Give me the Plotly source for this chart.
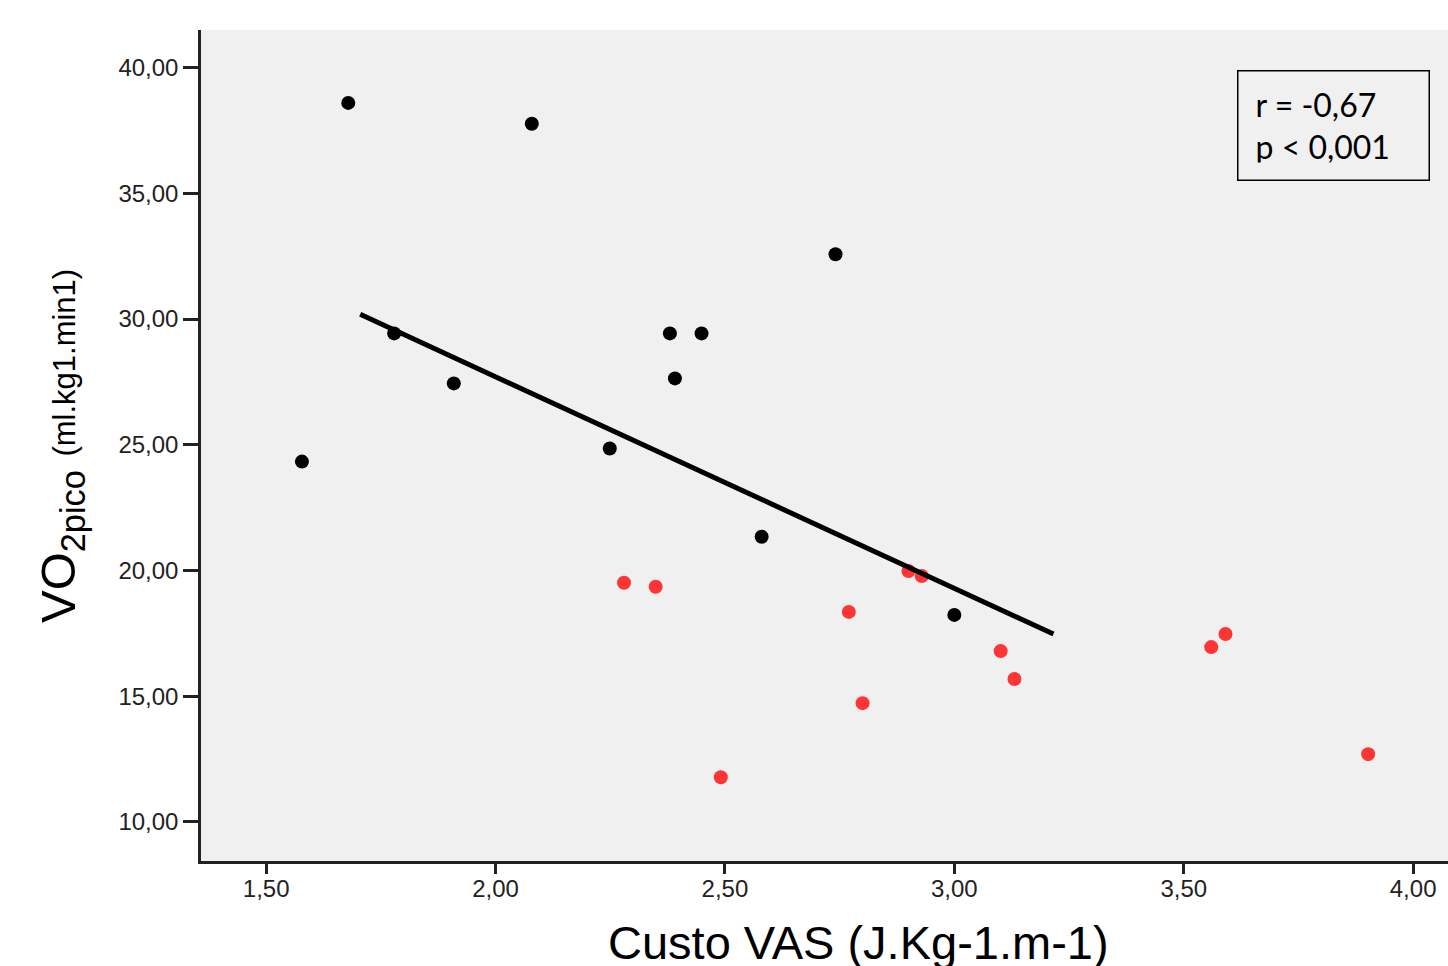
import plotly.graph_objects as go

# Data
black_x = [1.578, 1.679, 1.779, 1.909, 2.079, 2.249, 2.380, 2.449, 2.391, 2.580, 2.741, 3.000]
black_y = [24.33, 38.60, 29.43, 27.44, 37.77, 24.85, 29.43, 29.43, 27.64, 21.34, 32.58, 18.23]

red_x = [2.280, 2.349, 2.491, 2.770, 2.800, 2.900, 2.929, 3.101, 3.131, 3.560, 3.591, 3.902]
red_y = [19.51, 19.35, 11.77, 18.35, 14.72, 19.98, 19.78, 16.79, 15.68, 16.95, 17.47, 12.69]

fit_x = [1.705, 3.216]
fit_y = [30.19, 17.47]

x_ticks = [1.5, 2.0, 2.5, 3.0, 3.5, 4.0]
y_ticks = [10, 15, 20, 25, 30, 35, 40]

fig = go.Figure()
fig.add_trace(go.Scatter(x=black_x, y=black_y, mode="markers",
                         marker=dict(color="#000000", size=14, line=dict(width=0)),
                         showlegend=False, hoverinfo="skip"))
fig.add_trace(go.Scatter(x=red_x, y=red_y, mode="markers",
                         marker=dict(color="#ff3535", size=14, line=dict(width=0)),
                         showlegend=False, hoverinfo="skip"))
fig.add_trace(go.Scatter(x=fit_x, y=fit_y, mode="lines",
                         line=dict(color="#000000", width=5),
                         showlegend=False, hoverinfo="skip"))

tickfont = dict(family="Liberation Sans, Arial, sans-serif", size=24, color="#222222")

fig.update_layout(
    width=1448, height=966,
    margin=dict(l=201, r=0, t=30, b=105),
    paper_bgcolor="#ffffff",
    plot_bgcolor="#f0f0f0",
    separators=",.",
    xaxis=dict(range=[1.358, 4.076], tickvals=x_ticks, tickformat=".2f",
               showgrid=False, zeroline=False, showline=True, linecolor="#222222",
               linewidth=2.5, ticks="outside", ticklen=10, tickwidth=2.5,
               tickcolor="#222222", tickfont=tickfont, ticklabelstandoff=-6),
    yaxis=dict(range=[8.44, 41.5], tickvals=y_ticks, tickformat=".2f",
               showgrid=False, zeroline=False, showline=True, linecolor="#222222",
               linewidth=2.5, ticks="outside", ticklen=15, tickwidth=2.5,
               tickcolor="#222222", tickfont=tickfont),
    annotations=[
        dict(text="Custo VAS (J.Kg-1.m-1)", xref="paper", yref="paper",
             x=(858 - 201) / (1448 - 201), y=0, yshift=-53, xanchor="center", yanchor="top",
             showarrow=False,
             font=dict(family="Liberation Sans, Arial, sans-serif", size=47, color="#000000")),
        dict(text="VO<sub>2pico</sub> <span style='font-size:31px'>(ml.kg1.min1)</span>",
             xref="paper", yref="paper", x=0, xshift=-139, xanchor="center",
             y=(861 - 446) / (861 - 30), yanchor="middle", textangle=-90,
             showarrow=False,
             font=dict(family="Liberation Sans, Arial, sans-serif", size=49, color="#000000")),
        dict(text="r = -0,67<br>p < 0,001", xref="paper", yref="paper",
             x=(1237 - 201) / (1448 - 201), y=(861 - 70) / (861 - 30),
             xanchor="left", yanchor="top", align="left", showarrow=False,
             bordercolor="#000000", borderwidth=1.5, borderpad=17, bgcolor="#f0f0f0",
             width=156, height=74,
             font=dict(family="Lato, Carlito, sans-serif", size=32, color="#000000")),
    ],
)

fig.write_html("out.html")
